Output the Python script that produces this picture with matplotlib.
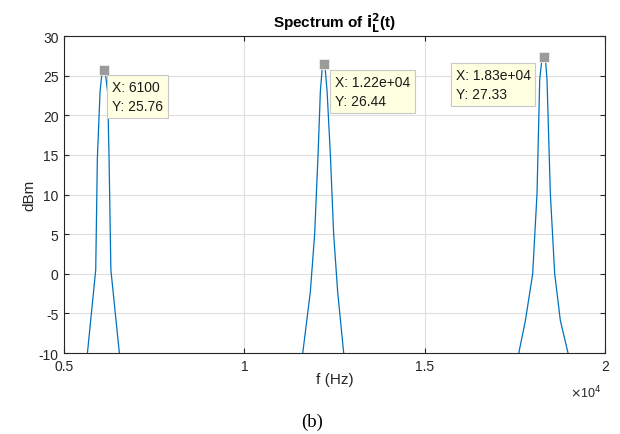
import numpy as np
import matplotlib
matplotlib.use("Agg")
import matplotlib.pyplot as plt

# spectrum samples (Hz, dBm) around each harmonic
f_peak1 = [5450, 5650, 5880, 5925, 6000, 6050, 6100, 6150, 6210, 6250, 6300, 6535, 6700]
p_peak1 = [-18, -10, 0.5, 14.5, 23, 25.2, 25.76, 25.2, 23, 14.5, 0.5, -10, -16]

f_peak2 = [11450, 11620, 11830, 11950, 12045, 12108, 12155, 12200, 12245, 12295, 12385, 12477, 12588, 12755, 12950]
p_peak2 = [-16, -10, -2.3, 5, 15.1, 23, 25.7, 26.44, 25.7, 23, 15.1, 5, -2.3, -10, -16]

f_peak3 = [17450, 17610, 17793, 17995, 18115, 18190, 18250, 18300, 18350, 18392, 18485, 18605, 18762, 18975, 19150]
p_peak3 = [-15, -10, -5.9, 0, 10.1, 24.5, 27.0, 27.33, 27.0, 24.5, 10.1, 0, -5.9, -10, -14]

# data tips
tip_x = [6100, 12200, 18300]
tip_y = [25.76, 26.44, 27.33]
tip_labels = ["X: 6100\nY: 25.76", "X: 1.22e+04\nY: 26.44", "X: 1.83e+04\nY: 27.33"]

x_ticks = [5000, 10000, 15000, 20000]
x_ticklabels = ["0.5", "1", "1.5", "2"]
y_ticks = [-10, -5, 0, 5, 10, 15, 20, 25, 30]

plt.rcParams['font.family'] = ['Liberation Sans', 'DejaVu Sans']
plt.rcParams['axes.unicode_minus'] = False

fig = plt.figure(figsize=(6.2, 4.35), dpi=100)
ax = fig.add_axes([0.1032, 0.1862, 0.8726, 0.7287])

freq = f_peak1 + f_peak2 + f_peak3
dbm = p_peak1 + p_peak2 + p_peak3
ax.plot(freq, dbm, color="#0072BD", lw=0.9)

ax.plot(tip_x, tip_y, "s", color="#9b9b9b", markersize=7,
        markeredgecolor="#f0f0e0", markeredgewidth=0.6, zorder=5)

# text anchor offsets (points) from each tip
offsets = [(6, -7.5), (8.4, -7.8), (-9.4, -7.8)]
aligns = ["left", "left", "right"]
for x, y, lab, off, ha in zip(tip_x, tip_y, tip_labels, offsets, aligns):
    ax.annotate(lab, (x, y), xytext=off, textcoords="offset points",
                ha=ha, va="top", multialignment="left", fontsize=10,
                color="#1a1a1a", linespacing=1.45,
                bbox=dict(boxstyle="square,pad=0.35", fc="#ffffe1", ec="#c8c8c8", lw=0.8),
                zorder=6)

ax.set_xlim(5000, 20000)
ax.set_ylim(-10, 30)
ax.set_xticks(x_ticks)
ax.set_xticklabels(x_ticklabels)
ax.set_yticks(y_ticks)
ax.grid(True, color="#dfdfdf", lw=0.8)
ax.set_axisbelow(True)
ax.tick_params(direction="in", length=3.5, width=0.8, top=True, right=True,
               labelsize=10, colors="#262626", pad=4)
for s in ax.spines.values():
    s.set_color("#262626")
    s.set_linewidth(0.8)

ax.set_xlabel("f (Hz)", fontsize=11, color="#262626")
ax.set_ylabel("dBm", fontsize=11, color="#262626")
ax.xaxis.set_label_coords(0.5, -0.06)
ax.yaxis.set_label_coords(-0.051, 0.5)
ax.set_title(r"Spectrum of $\mathbf{i_L^2}$(t)", fontsize=11, fontweight="bold", pad=6)

fig.text(0.945, 0.097, r"$\times$10$^4$", fontsize=9, color="#262626", ha="center", va="center")
fig.text(0.503, 0.03, "(b)", fontsize=13.5, family="Liberation Serif", ha="center", va="center")

fig.savefig("out.png", dpi=100)
